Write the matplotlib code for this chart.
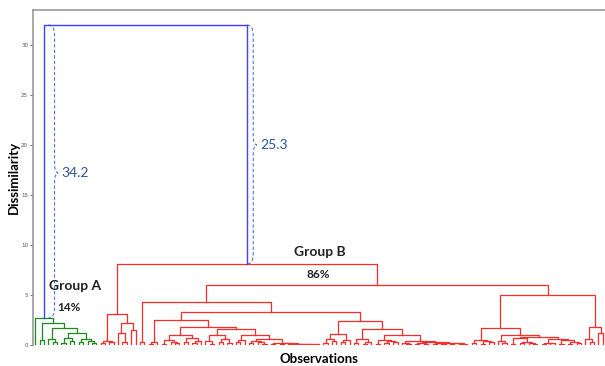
import re
import matplotlib
matplotlib.use("Agg")
import matplotlib.pyplot as plt
from matplotlib.path import Path
from matplotlib.patches import PathPatch

# dendrogram pieces, written as "(left,right)height", "o" = one observation
group_a = ("(o,((o,o)0.5,((o,(o,o)0.3)0.6,(((o,o)0.2,(o,o)0.4)0.7,"
           "((o,o)0.3,(o,(o,o)0.2)0.4)0.6)1.2)1.7)2.2)2.7")
b_left = "(((o,o)0.2,(o,o)0.3)0.4,((o,(o,o)0.3)1.2,(o,o)1.5)2.2)3.1"
c1 = "(o,o)0.3"
d1 = ("(((o,o)0.1,o)0.3,"
      "((((o,o)0.1,(o,(o,o)0.2)0.3)0.5,((o,o)0.3,((o,o)0.2,o)0.4)0.7)1.0,"
      "(((o,(o,o)0.1)0.4,((o,o)0.3,(o,o)0.2)0.6)1.0,"
      "(((o,o)0.3,o)0.5,(((o,o)0.2,(o,(o,o)0.1)0.3)0.4,((o,o)0.1,((o,o)0.05,"
      "((o,o)0.05,((o,o)0.05,((o,o)0.05,(o,o)0.05)0.1)0.1)0.1)0.15)0.2)0.6)1.0)1.6)1.8)2.5")
d2 = ("((((o,o)0.2,(o,o)0.4)0.6,((o,o)0.3,o)0.5)1.1,"
      "(((o,o)0.2,((o,o)0.1,o)0.3)0.6,"
      "(((o,o)0.1,((o,o)0.2,(o,o)0.3)0.4)0.5,"
      "((o,(o,o)0.1)0.2,(((o,o)0.1,(o,o)0.05)0.15,(((o,o)0.05,(o,o)0.1)0.15,"
      "((o,o)0.05,((o,o)0.05,o)0.1)0.15)0.2)0.3)0.4)1.0)1.6)2.4")
e_node = ("((((o,o)0.2,((o,o)0.1,(o,o)0.3)0.4)0.5,"
          "((o,(o,o)0.2)0.4,(((o,o)0.1,((o,o)0.2,(o,(o,o)0.1)0.15)0.3)0.7,"
          "(((o,o)0.1,(o,o)0.15)0.2,((o,o)0.05,((o,o)0.1,(o,o)0.2)0.3)0.5)0.6)0.8)1.0)1.7,"
          "((o,(o,o)0.3)0.6,(o,o)1.2)1.8)5.0")

h_root = 32.0
h_b = 8.1
h_br = 6.0
h_brl = 4.3
h_c2 = 3.3

b_tree = f"({b_left},(({c1},({d1},{d2}){h_c2}){h_brl},{e_node}){h_br}){h_b}"

yticks = [0, 5, 10, 15, 20, 25, 30]
gap_labels = ["34.2", "25.3"]
groups = ["Group A", "Group B"]
shares = ["14%", "86%"]


def parse(s):
    toks = re.findall(r"\(|\)|,|o|[0-9.]+", s)
    pos = [0]

    def node():
        t = toks[pos[0]]
        pos[0] += 1
        if t == "o":
            return None
        left = node()
        pos[0] += 1  # ,
        right = node()
        pos[0] += 1  # )
        h = float(toks[pos[0]])
        pos[0] += 1
        return (h, left, right)
    return node()


counter = [0]


def draw(ax, tree, color):
    if tree is None:
        x = counter[0] + 0.5
        counter[0] += 1
        return x, 0.0
    h, left, right = tree
    xl, hl = draw(ax, left, color)
    xr, hr = draw(ax, right, color)
    ax.plot([xl, xl, xr, xr], [hl, h, h, hr], color=color, lw=0.9)
    return (xl + xr) / 2, h


def brace(ax, x0, dx, y_top, y_bot, y_tip, color):
    xm = x0 + dx
    xt = x0 + dx * 1.6
    r = 1.0
    verts = [(x0, y_top), (xm, y_top), (xm, y_top - r),
             (xm, y_tip + r),
             (xm, y_tip), (xt, y_tip),
             (xm, y_tip), (xm, y_tip - r),
             (xm, y_bot + r),
             (xm, y_bot), (x0, y_bot)]
    codes = [Path.MOVETO, Path.CURVE3, Path.CURVE3, Path.LINETO,
             Path.CURVE3, Path.CURVE3, Path.CURVE3, Path.CURVE3,
             Path.LINETO, Path.CURVE3, Path.CURVE3]
    ax.add_patch(PathPatch(Path(verts, codes), fill=False, edgecolor=color,
                           lw=0.8, linestyle=(0, (3, 2))))
    return xt


fig = plt.figure(figsize=(6.05, 3.66), dpi=100)
ax = fig.add_axes([0.0545, 0.0574, 0.9455, 0.9153])

xa, ha = draw(ax, parse(group_a), "#1a8c1a")
xb, hb = draw(ax, parse(b_tree), "#ff2b2b")
ax.plot([xa, xa, xb, xb], [ha, h_root, h_root, hb], color="#4040ff", lw=1.0)
n = counter[0]

bc = "#4a7bd0"
tc = "#2f56a0"
t1 = brace(ax, xa + 1.0, 1.4, h_root, ha, 17.2, bc)
ax.text(t1 + 0.8, 17.2, gap_labels[0], color=tc, fontsize=10, family="Lato",
        va="center", ha="left")
t2 = brace(ax, xb, 1.4, h_root, hb, 20.0, bc)
ax.text(t2 + 0.8, 20.0, gap_labels[1], color=tc, fontsize=10, family="Lato",
        va="center", ha="left")

ax.text(xa + 7.2, 5.9, groups[0], fontsize=10, fontweight="bold", family="Lato",
        ha="center", va="center", color="#222222")
ax.text(xa + 5.8, 3.7, shares[0], fontsize=8.5, fontweight="bold", family="Lato",
        ha="center", va="center", color="#222222")
ax.text(xb + 16.6, 9.3, groups[1], fontsize=10, fontweight="bold", family="Lato",
        ha="center", va="center", color="#222222")
ax.text(xb + 16.2, 7.0, shares[1], fontsize=8.5, fontweight="bold", family="Lato",
        ha="center", va="center", color="#222222")

ax.set_xlim(0, n)
ax.set_ylim(0, 33.5)
ax.set_xticks([])
ax.set_yticks(yticks)
ax.tick_params(axis="y", labelsize=4, length=2, width=0.6, colors="#555555", pad=1.5)
for side in ["bottom", "right"]:
    ax.spines[side].set_visible(False)
for side in ["top", "left"]:
    ax.spines[side].set_color("#999999")
    ax.spines[side].set_linewidth(1.2)

ax.set_ylabel("Dissimilarity", fontsize=9.5, fontweight="bold", family="Lato",
              labelpad=1)
ax.set_xlabel("Observations", fontsize=9.5, fontweight="bold", family="Lato",
              labelpad=6)

fig.savefig("out.png", dpi=100)
